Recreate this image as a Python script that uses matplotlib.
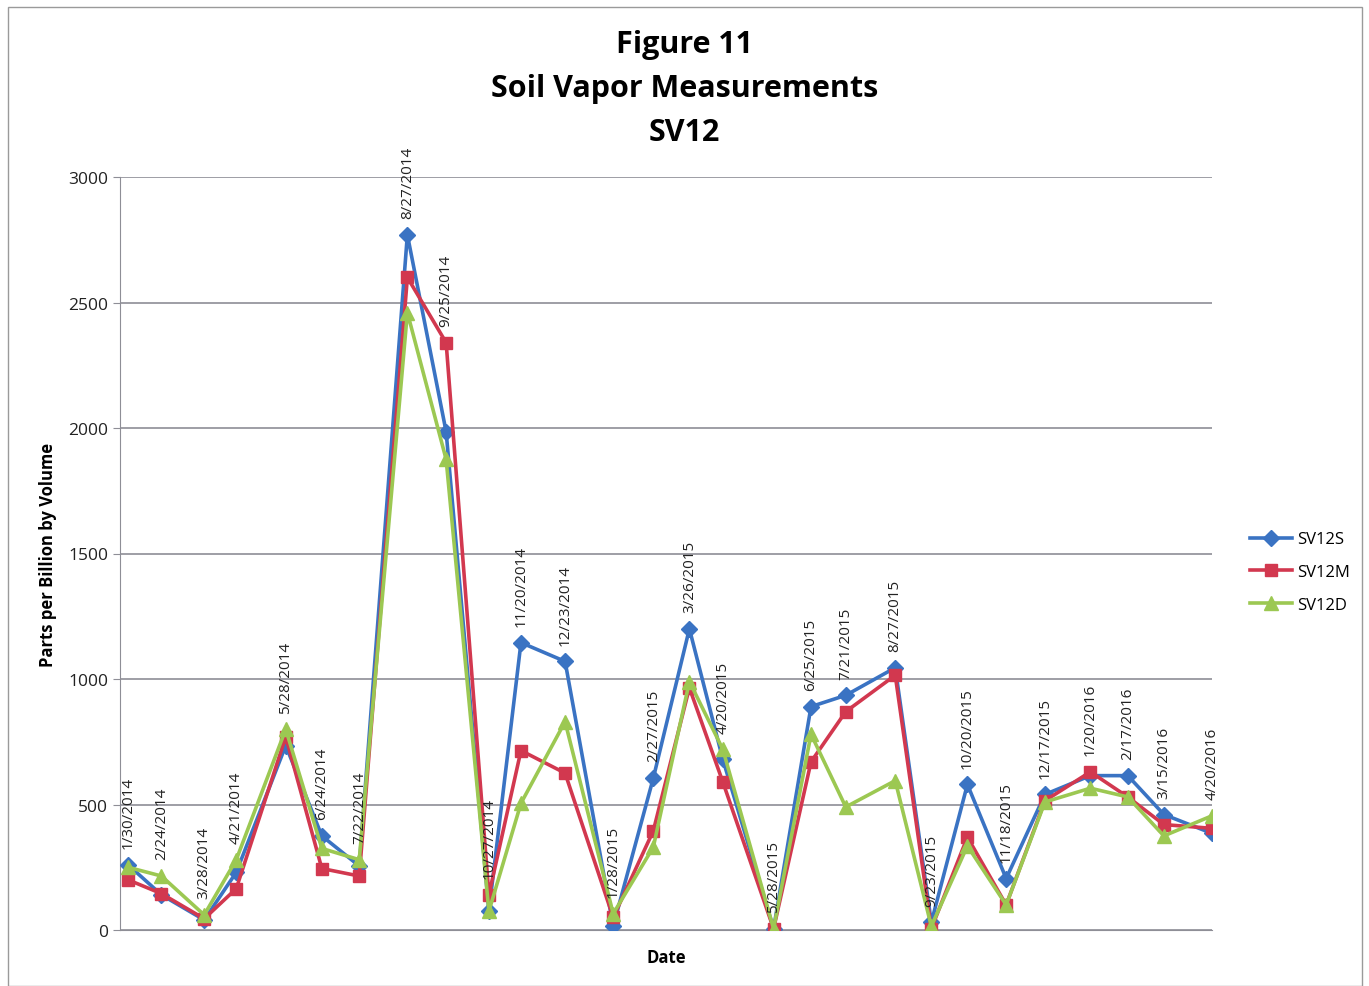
import matplotlib.pyplot as plt
import matplotlib.dates as mdates
from matplotlib.patches import Rectangle
import datetime as dt

# data (ppbv)
dates = ['1/30/2014', '2/24/2014', '3/28/2014', '4/21/2014', '5/28/2014', '6/24/2014',
         '7/22/2014', '8/27/2014', '9/25/2014', '10/27/2014', '11/20/2014', '12/23/2014',
         '1/28/2015', '2/27/2015', '3/26/2015', '4/20/2015', '5/28/2015', '6/25/2015',
         '7/21/2015', '8/27/2015', '9/23/2015', '10/20/2015', '11/18/2015', '12/17/2015',
         '1/20/2016', '2/17/2016', '3/15/2016', '4/20/2016']
sv12s = [260, 140, 40, 230, 735, 375, 255, 2770, 1985, 75, 1145, 1070,
         15, 605, 1200, 680, 5, 890, 935, 1045, 30, 580, 205, 540,
         615, 615, 460, 385]
sv12m = [200, 145, 45, 165, 770, 245, 215, 2600, 2340, 140, 715, 625,
         50, 395, 965, 590, 5, 670, 870, 1015, 5, 370, 100, 515,
         630, 530, 420, 405]
sv12d = [250, 215, 60, 280, 800, 325, 280, 2460, 1875, 75, 505, 830,
         65, 330, 990, 720, 5, 780, 490, 595, 15, 335, 100, 510,
         565, 530, 375, 455]

x = [dt.datetime.strptime(d, '%m/%d/%Y') for d in dates]

blue = '#3a73c3'
red = '#d2384f'
green = '#9cc852'

fig = plt.figure(figsize=(13.69, 9.87), dpi=100)
ax = fig.add_axes([120 / 1369, 1 - 931 / 987, (1212 - 120) / 1369, (931 - 178) / 987])

ax.plot(x, sv12s, color=blue, marker='D', markersize=8, linewidth=2.6, label='SV12S', zorder=3)
ax.plot(x, sv12m, color=red, marker='s', markersize=9, linewidth=2.6, label='SV12M', zorder=4)
ax.plot(x, sv12d, color=green, marker='^', markersize=10, linewidth=2.6, label='SV12D', zorder=5)

# date labels above the highest point at each date
for xi, d, a, b, c in zip(x, dates, sv12s, sv12m, sv12d):
    ax.annotate(d, (xi, max(a, b, c)), xytext=(0, 12), textcoords='offset points',
                rotation=90, ha='center', va='bottom', fontsize=11, color='#222222',
                family='Open Sans', zorder=6)

ax.set_ylim(0, 3000)
ax.set_yticks(range(0, 3001, 500))
ax.set_xlim(x[0] - dt.timedelta(days=6), x[-1])
ax.set_xticks([])
ax.yaxis.grid(True, color='#8e8e96', linewidth=1.2)
ax.set_axisbelow(True)
for s in ['top', 'right']:
    ax.spines[s].set_visible(False)
ax.spines['left'].set_color('#8e8e96')
ax.spines['bottom'].set_color('#8e8e96')
ax.tick_params(axis='y', labelsize=12.5, colors='#222222', length=5, color='#8e8e96')
for t in ax.get_yticklabels():
    t.set_family('Open Sans')

ax.set_ylabel('Parts per Billion by Volume', fontsize=12, fontweight='bold',
              family='Open Sans', labelpad=8)
ax.set_xlabel('Date', fontsize=12, fontweight='bold', family='Open Sans', labelpad=13)

fig.text(0.5, 1 - 89 / 987, 'Figure 11\nSoil Vapor Measurements\nSV12', ha='center', va='center',
         fontsize=22, fontweight='bold', family='Open Sans', linespacing=1.6)

fig.legend(loc='center left', bbox_to_anchor=(1235 / 1369, 1 - 573 / 987), frameon=False,
           fontsize=12, handlelength=2.5, labelspacing=1.0, handletextpad=0.3,
           prop={'family': 'Open Sans', 'size': 12})

fig.add_artist(Rectangle((8 / 1369, 0.0), 1354 / 1369, 1 - 8 / 987, transform=fig.transFigure,
                         fill=False, edgecolor='#9a9a9a', linewidth=1))

fig.savefig('out.png', dpi=100)
